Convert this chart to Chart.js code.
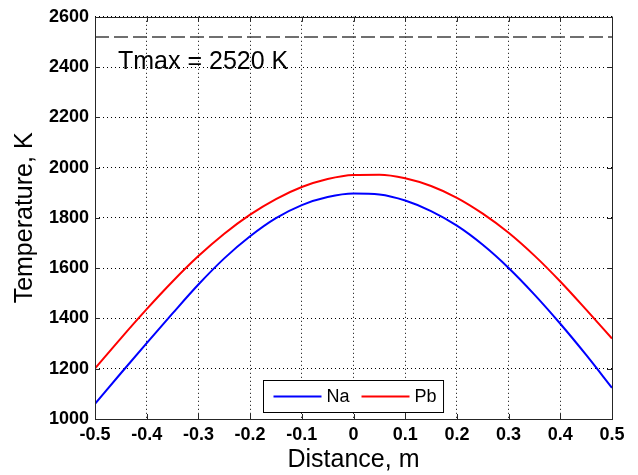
<!DOCTYPE html>
<html>
<head>
<meta charset="utf-8">
<script src="https://cdn.jsdelivr.net/npm/chart.js@4.4.1/dist/chart.umd.min.js"></script>
<style>
    html, body { margin: 0; padding: 0; background: #fff; }
    #wrap { width: 638px; height: 475px; }
</style>
</head>
<body>
<div id="wrap"><canvas id="tempChart" width="638" height="475"></canvas></div>
<script>
// temperature profile along the channel
const distance = [-0.5, -0.45, -0.4, -0.35, -0.3, -0.25, -0.2, -0.15, -0.1, -0.05, 0, 0.05, 0.1, 0.15, 0.2, 0.25, 0.3, 0.35, 0.4, 0.45, 0.5];
const naTemp = [1060, 1182, 1302, 1420, 1535, 1639, 1727, 1799, 1851, 1883, 1897, 1893, 1869, 1827, 1769, 1693, 1601, 1495, 1379, 1255, 1124];
const pbTemp = [1201, 1321, 1437, 1547, 1648, 1737, 1813, 1875, 1923, 1955, 1971, 1972, 1958, 1927, 1880, 1817, 1741, 1650, 1547, 1435, 1320];
const tMax = 2520;

const xTicks = [-0.5, -0.4, -0.3, -0.2, -0.1, 0, 0.1, 0.2, 0.3, 0.4, 0.5];
const yTicks = [1000, 1200, 1400, 1600, 1800, 2000, 2200, 2400, 2600];

const FONT = 'Arial, "Liberation Sans", sans-serif';

function points(ys) {
    return distance.map((x, i) => ({ x: x, y: ys[i] }));
}

// box around the axes with inward ticks on every side
const frame = {
    id: 'frame',
    afterDatasetsDraw(chart) {
        const { ctx, chartArea: a, scales } = chart;
        const t = 5;
        ctx.save();
        ctx.strokeStyle = '#262626';
        ctx.lineWidth = 1;
        ctx.beginPath();
        scales.x.ticks.forEach(tk => {
            const px = Math.round(scales.x.getPixelForValue(tk.value)) + 0.5;
            ctx.moveTo(px, a.bottom); ctx.lineTo(px, a.bottom - t);
            ctx.moveTo(px, a.top); ctx.lineTo(px, a.top + t);
        });
        scales.y.ticks.forEach(tk => {
            const py = Math.round(scales.y.getPixelForValue(tk.value)) + 0.5;
            ctx.moveTo(a.left, py); ctx.lineTo(a.left + t, py);
            ctx.moveTo(a.right, py); ctx.lineTo(a.right - t, py);
        });
        ctx.stroke();
        ctx.strokeRect(Math.round(a.left) + 0.5, Math.round(a.top) + 0.5,
            Math.round(a.right - a.left), Math.round(a.bottom - a.top));
        ctx.restore();
    }
};

// Tmax label and the boxed legend at the bottom of the plot
const notes = {
    id: 'notes',
    afterDraw(chart) {
        const { ctx, chartArea: a, scales } = chart;
        ctx.save();
        ctx.fillStyle = '#000';
        ctx.font = '25px ' + FONT;
        ctx.textBaseline = 'alphabetic';
        ctx.fillText('Tmax = ' + tMax + ' K', a.left + 23, scales.y.getPixelForValue(tMax) + 32);

        const sets = chart.data.datasets.filter(d => d.label !== 'Tmax');
        ctx.font = '18px ' + FONT;
        const lineLen = 48;
        let w = 10;
        sets.forEach((d, i) => {
            w += lineLen + 5 + ctx.measureText(d.label).width + (i < sets.length - 1 ? 12 : 7);
        });
        const h = 32;
        const x0 = Math.round((a.left + a.right) / 2 - w / 2) + 0.5;
        const y0 = Math.round(a.bottom - 7 - h) + 0.5;
        ctx.fillStyle = '#fff';
        ctx.fillRect(x0, y0, w, h);
        ctx.strokeStyle = '#000';
        ctx.lineWidth = 1;
        ctx.strokeRect(x0, y0, w, h);

        let x = x0 + 10;
        const ym = y0 + h / 2;
        ctx.textBaseline = 'middle';
        sets.forEach(d => {
            ctx.strokeStyle = d.borderColor;
            ctx.lineWidth = 2;
            ctx.beginPath();
            ctx.moveTo(x, ym); ctx.lineTo(x + lineLen, ym);
            ctx.stroke();
            x += lineLen + 5;
            ctx.fillStyle = '#000';
            ctx.fillText(d.label, x, ym + 1);
            x += ctx.measureText(d.label).width + 12;
        });
        ctx.restore();
    }
};

new Chart(document.getElementById('tempChart'), {
    type: 'line',
    data: {
        datasets: [
            {
                label: 'Na',
                data: points(naTemp),
                borderColor: '#0000ff',
                borderWidth: 2,
                pointRadius: 0,
                cubicInterpolationMode: 'monotone'
            },
            {
                label: 'Pb',
                data: points(pbTemp),
                borderColor: '#ff0000',
                borderWidth: 2,
                pointRadius: 0,
                cubicInterpolationMode: 'monotone'
            },
            {
                label: 'Tmax',
                data: [{ x: xTicks[0], y: tMax }, { x: xTicks[xTicks.length - 1], y: tMax }],
                borderColor: '#404040',
                borderWidth: 1.5,
                borderDash: [14, 5],
                pointRadius: 0
            }
        ]
    },
    options: {
        responsive: false,
        animation: false,
        layout: { padding: { left: 0, top: 14, right: 26, bottom: 0 } },
        plugins: {
            legend: { display: false },
            tooltip: { enabled: false }
        },
        scales: {
            x: {
                type: 'linear',
                min: -0.5,
                max: 0.5,
                afterBuildTicks: s => { s.ticks = xTicks.map(v => ({ value: v })); },
                afterFit: s => { s.height = 56; },
                ticks: {
                    color: '#000',
                    padding: 5,
                    maxRotation: 0,
                    font: { family: FONT, size: 18, weight: 'bold' },
                    callback: v => String(v)
                },
                grid: { color: '#000', lineWidth: 1, drawTicks: false },
                border: { display: false, dash: [1, 3] },
                title: {
                    display: true,
                    text: 'Distance, m',
                    color: '#000',
                    font: { family: FONT, size: 25 },
                    padding: { top: 0, bottom: 0 }
                }
            },
            y: {
                min: 1000,
                max: 2600,
                afterBuildTicks: s => { s.ticks = yTicks.map(v => ({ value: v })); },
                afterFit: s => { s.width = 95; },
                ticks: {
                    color: '#000',
                    padding: 6,
                    font: { family: FONT, size: 18, weight: 'bold' },
                    callback: v => String(v)
                },
                grid: { color: '#000', lineWidth: 1, drawTicks: false },
                border: { display: false, dash: [1, 3] },
                title: {
                    display: true,
                    text: 'Temperature, K',
                    color: '#000',
                    font: { family: FONT, size: 25 },
                    padding: { top: 10, bottom: 0 }
                }
            }
        }
    },
    plugins: [frame, notes]
});
</script>
</body>
</html>
